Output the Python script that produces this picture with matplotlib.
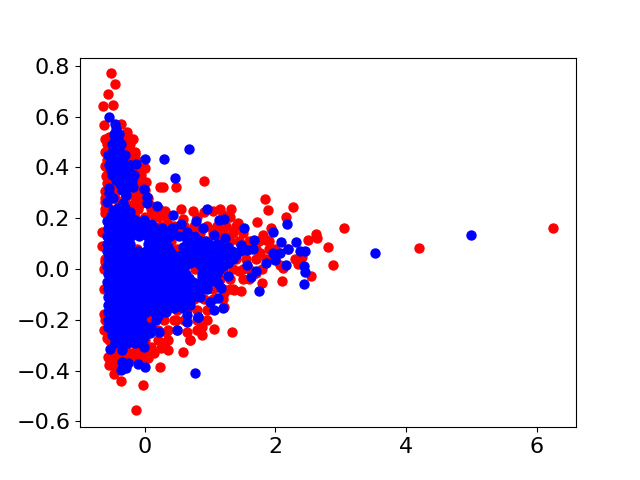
import matplotlib
matplotlib.use('Agg')
import matplotlib.pyplot as plt

# outlying red points
red_x = [6.25, 4.2, 3.05, 2.88, 2.8, 2.64, 2.62, 2.54, 2.5, 2.41, 2.35, 2.27, 2.16, 2.12, 2.1, 2.07,
         1.94, 1.89, 1.86, 1.84, 1.81, 1.8, 1.76, 1.72, 1.71, 1.48, 1.45, 1.43, 1.36, 1.35, 1.35, 1.34, 1.32,
         1.22, 1.22, 1.2, 1.06, 1.04, 1.04, 0.91, 0.91, 0.87, 0.87, 0.86, 0.74, 0.69, 0.69, 0.64, 0.64,
         0.59, 0.59, 0.485, 0.48, 0.36, 0.36, 0.33, 0.31, 0.31, 0.28, 0.23, 0.23, 0.15, 0.1, 0.02, 0.02, 0.0,
         -0.03, -0.13, -0.13, -0.13, -0.15, -0.18, -0.27, -0.33, -0.36, -0.36, -0.45, -0.47, -0.49, -0.52,
         -0.54, -0.56, -0.56, -0.58, -0.59, -0.6, -0.6, -0.6, -0.6, -0.61, -0.61, -0.63, -0.63, -0.63, -0.64,
         -0.65, -0.65]
red_y = [0.16, 0.083, 0.16, 0.017, 0.085, 0.121, 0.138, -0.026, 0.113, 0.046, 0.019, 0.243, 0.206, 0.004, -0.049, 0.016,
         0.16, 0.231, 0.114, 0.275, 0.134, -0.056, 0.062, 0.184, -0.017, -0.086, -0.01, 0.181, -0.083, 0.15, -0.08, -0.25, 0.237,
         -0.096, -0.149, 0.214, -0.238, 0.228, 0.155, 0.346, 0.224, -0.228, -0.26, -0.23, 0.228, -0.28, -0.28, -0.25, 0.146,
         0.195, -0.325, 0.322, -0.2, 0.175, -0.321, -0.247, 0.229, -0.287, 0.322, 0.322, -0.387, 0.214, -0.306, 0.343, -0.313, 0.398,
         -0.455, 0.268, -0.333, -0.557, 0.454, 0.513, 0.54, -0.346, 0.57, -0.44, 0.73, -0.412, 0.645, 0.77,
         -0.379, 0.69, -0.346, -0.273, 0.367, 0.513, 0.406, 0.306, 0.221, 0.263, 0.029, 0.565, -0.241, -0.178, 0.643,
         0.146, 0.09]

# red mass behind the blue, one list of x per y level
red_core_y = [0.52, 0.49, 0.46, 0.43, 0.40, 0.37, 0.34, 0.31, 0.28, 0.25, 0.235, 0.205, 0.17, 0.14, 0.11, 0.08, 0.04, 0.0,
              -0.04, -0.08, -0.12, -0.16, -0.2, -0.24, -0.28, -0.31, -0.33, -0.35, -0.38]
red_core_x = [
    [-0.55, -0.45, -0.35, -0.25],
    [-0.58, -0.5, -0.4, -0.3, -0.22],
    [-0.6, -0.5, -0.4, -0.3, -0.2, -0.15],
    [-0.58, -0.45, -0.33, -0.22, -0.14],
    [-0.58, -0.45, -0.3, -0.2, -0.1],
    [-0.58, -0.42, -0.26, -0.14, -0.05],
    [-0.58, -0.45, -0.3, -0.18, -0.08, -0.02],
    [-0.58, -0.42, -0.22, -0.1, 0.0],
    [-0.6, -0.45, -0.3, -0.15, -0.05, 0.05],
    [-0.58, -0.4, -0.2, -0.08, 0.08],
    [-0.6, -0.3, -0.1, 0.1, 0.22, 0.55, 1.15],
    [-0.4, -0.15, 0.0, 0.2, 0.32, 0.8, 1.3],
    [0.1, 0.25, 0.45, 0.6, 0.75, 0.95, 1.1, 1.25, 1.4],
    [-0.6, 0.2, 0.5, 0.65, 0.85, 1.05, 1.2, 1.35, 1.5],
    [0.4, 0.7, 0.95, 1.15, 1.3, 1.45, 1.6, 1.75, 1.9],
    [-0.12, 0.3, 0.49, 0.6, 0.9, 1.2, 1.5, 1.6, 1.7, 1.9, 2.0, 2.2],
    [-0.6, 0.8, 1.4, 1.55, 1.7, 1.85, 2.0, 2.3],
    [-0.62, 0.77, 1.2, 1.35, 1.5, 1.6, 1.8],
    [1.0, 1.15, 1.3, 1.5, 1.6],
    [-0.62, 0.9, 1.05, 1.2, 1.3],
    [0.75, 0.9, 1.05, 1.2],
    [0.5, 0.65, 0.8, 0.95],
    [-0.6, 0.08, 0.3, 0.45, 0.6, 0.8, 0.95],
    [0.2, 0.35, 0.5, 0.8],
    [-0.55, -0.4, -0.2, 0.0, 0.2, 0.35],
    [-0.5, -0.3, -0.12, 0.08, 0.25],
    [-0.42, -0.2, -0.02, 0.14],
    [-0.55, -0.45, -0.35, -0.25, -0.15, -0.05, 0.05],
    [-0.5, -0.42, -0.3],
]

# single blue points around the edge of the mass
blue_x = [5.0, 3.52, 2.46, 2.46, 2.44, 2.44, 2.38, 2.32, 2.19, 2.18, 2.16, 2.08, 2.07, 1.99, 1.96, 1.96,
          1.85, 1.75, 1.7, 1.68, 1.66, 1.63, 1.57, 1.56, 1.52, 1.48, 1.28, 1.23, 1.21, 1.2, 1.17, 1.13, 1.12, 1.12,
          1.06, 1.06, 1.05, 1.0, 0.95, 0.92, 0.89, 0.87, 0.82, 0.81, 0.79, 0.77, 0.71, 0.69, 0.68, 0.65, 0.64, 0.64,
          0.64, 0.59, 0.56, 0.49, 0.46, 0.44, 0.43, 0.31, 0.3, 0.22, 0.19, 0.12, 0.08, 0.04, 0.04, 0.03, 0.01,
          0.0, -0.01, -0.01, -0.01, -0.11, -0.13, -0.18, -0.18, -0.23, -0.23, -0.26, -0.28, -0.29, -0.29,
          -0.33, -0.35, -0.35, -0.36, -0.41, -0.49, -0.53, -0.54, -0.54, -0.55, -0.58,
          -0.2, -0.28, -0.35, -0.48, -0.3, -0.22]
blue_y = [0.133, 0.063, 0.071, -0.013, 0.012, -0.06, 0.071, 0.107, 0.079, 0.177, 0.016, 0.105, 0.062, 0.035, 0.144, 0.062,
          0.025, -0.088, -0.01, 0.114, 0.078, -0.032, 0.015, 0.075, 0.16, 0.095, -0.026, 0.121, 0.196, -0.155, -0.076, 0.192, -0.116, -0.056,
          0.135, -0.162, -0.037, -0.129, 0.237, 0.11, 0.16, -0.03, -0.188, -0.19, 0.188, -0.411, 0.126, -0.122, 0.473, -0.208, 0.146, 0.112,
          -0.181, -0.155, 0.175, -0.241, 0.359, 0.162, 0.213, 0.135, 0.434, -0.25, 0.247, 0.171, -0.254, 0.283, 0.258, 0.162, -0.387,
          0.433, 0.315, 0.192, -0.309, -0.374, 0.415, 0.322, 0.195, 0.346, 0.41, -0.372, 0.214, 0.293, -0.391,
          0.26, -0.365, -0.32, -0.398, 0.241, 0.234, -0.316, 0.32, 0.3, 0.60, 0.264,
          0.37, 0.32, 0.31, 0.28, 0.24, 0.225]

# blue mass, one list of x per y level
blue_core_y = [0.57, 0.55, 0.53, 0.51, 0.49, 0.47, 0.45, 0.43, 0.41, 0.39, 0.37, 0.35, 0.335,
               0.21, 0.19, 0.175, 0.16, 0.145, 0.13, 0.115, 0.10, 0.085, 0.07, 0.055, 0.04, 0.025, 0.01, -0.005,
               -0.02, -0.035, -0.05, -0.065, -0.08, -0.095, -0.11, -0.125, -0.14, -0.155, -0.17, -0.185, -0.20,
               -0.215, -0.23, -0.245, -0.26, -0.275, -0.29]
blue_core_x = [
    [-0.46],
    [-0.44],
    [-0.47, -0.40],
    [-0.46, -0.41],
    [-0.50, -0.42, -0.36],
    [-0.48, -0.4],
    [-0.56, -0.48, -0.38, -0.30],
    [-0.52, -0.44, -0.34],
    [-0.55, -0.47, -0.38, -0.30, -0.22],
    [-0.52, -0.43, -0.34, -0.26],
    [-0.50, -0.42, -0.33, -0.25, -0.17],
    [-0.44, -0.36, -0.28, -0.2],
    [-0.38, -0.28, -0.2],
    [-0.52, -0.42, -0.3],
    [-0.57, -0.48, -0.36, -0.24, -0.12],
    [-0.5, -0.4, -0.28, -0.17, -0.05, 0.1],
    [-0.56, -0.45, -0.33, -0.21, -0.1, 0.02, 0.14, 0.26, 0.42],
    [-0.5, -0.39, -0.27, -0.15, -0.04, 0.09, 0.2, 0.34],
    [-0.57, -0.45, -0.33, -0.21, -0.09, 0.03, 0.15, 0.27, 0.39, 0.52, 0.75],
    [-0.51, -0.39, -0.27, 0.09, 0.21, 0.33, 0.7, 0.82],
    [-0.58, -0.46, -0.34, -0.22, 0.05, 0.17, 0.29, 0.65, 0.87, 0.99, 1.1],
    [-0.52, -0.4, -0.28, 0.11, 0.23, 0.35, 0.59, 0.71, 0.82, 0.93, 1.05, 1.16, 1.28],
    [-0.58, -0.46, -0.34, -0.22, -0.1, 0.02, 0.14, 0.26, 0.38, 0.62, 0.74, 0.86, 0.98, 1.1, 1.22, 1.34, 1.46],
    [-0.52, -0.4, -0.28, -0.16, -0.04, 0.08, 0.2, 0.32, 0.44, 0.56, 0.68, 0.8, 0.92, 1.04, 1.16, 1.28, 1.4],
    [-0.56, -0.45, -0.33, -0.21, -0.09, 0.03, 0.15, 0.27, 0.39, 0.51, 0.63, 0.75, 0.87, 0.99, 1.11, 1.23, 1.35],
    [-0.51, -0.39, -0.27, -0.15, -0.03, 0.09, 0.21, 0.33, 0.45, 0.57, 0.69, 0.81, 0.93, 1.05, 1.16, 1.27],
    [-0.57, -0.46, -0.34, -0.22, -0.1, 0.02, 0.14, 0.26, 0.38, 0.5, 0.62, 0.86, 0.98, 1.1, 1.2],
    [-0.51, -0.4, -0.28, -0.16, -0.04, 0.08, 0.2, 0.32, 0.44, 0.56, 0.92, 1.04, 1.14],
    [-0.56, -0.45, -0.33, -0.21, -0.09, 0.03, 0.15, 0.27, 0.39, 0.51, 0.63, 0.88, 1.0, 1.1],
    [-0.51, -0.39, -0.27, -0.15, -0.03, 0.09, 0.21, 0.33, 0.45, 0.57, 0.68, 0.92, 1.03],
    [-0.57, -0.46, -0.34, -0.22, -0.1, 0.02, 0.14, 0.26, 0.38, 0.5, 0.62, 0.74, 0.86, 0.98],
    [-0.51, -0.4, -0.28, -0.16, -0.04, 0.08, 0.2, 0.32, 0.44, 0.56, 0.68, 0.8, 0.9],
    [-0.56, -0.45, -0.33, -0.21, -0.09, 0.03, 0.15, 0.27, 0.39, 0.51, 0.63, 0.75, 0.85, 0.95],
    [-0.51, -0.39, -0.27, -0.15, -0.03, 0.09, 0.21, 0.33, 0.45, 0.57, 0.69, 0.8],
    [-0.56, -0.46, -0.34, -0.22, -0.1, 0.02, 0.14, 0.26, 0.38, 0.5, 0.62, 0.74, 0.85],
    [-0.51, -0.4, -0.28, -0.16, -0.04, 0.08, 0.2, 0.32, 0.44, 0.56, 0.66],
    [-0.56, -0.45, -0.33, -0.21, -0.09, 0.03, 0.15, 0.27, 0.39, 0.51, 0.63, 0.7],
    [-0.51, -0.39, -0.27, -0.15, -0.03, 0.09, 0.21, 0.32, 0.45],
    [-0.56, -0.46, -0.34, -0.22, -0.1, 0.02, 0.14, 0.26, 0.33],
    [-0.51, -0.4, -0.28, -0.16, -0.04, 0.2],
    [-0.56, -0.45, -0.33, -0.21, -0.09, 0.18],
    [-0.51, -0.39, -0.27, -0.15, -0.03],
    [-0.56, -0.46, -0.34, -0.22, -0.1, 0.02, 0.1],
    [-0.5, -0.4, -0.28, -0.16, -0.04],
    [-0.5, -0.4, -0.3, -0.2, -0.1, 0.0],
    [-0.46, -0.35, -0.24, -0.13, -0.03],
    [-0.45, -0.35, -0.25, -0.15, -0.05],
]

# unroll the per-level lists
for y, xs in zip(red_core_y, red_core_x):
    red_x = red_x + xs
    red_y = red_y + [y] * len(xs)
for y, xs in zip(blue_core_y, blue_core_x):
    blue_x = blue_x + xs
    blue_y = blue_y + [y] * len(xs)

plt.rcParams['font.size'] = 16

fig, ax = plt.subplots(figsize=(6.4, 4.8), dpi=100)
ax.scatter(red_x, red_y, s=42, c='red')
ax.scatter(blue_x, blue_y, s=42, c='blue')

ax.set_xlim(-0.99, 6.6)
ax.set_ylim(-0.623, 0.832)
ax.set_xticks([0, 2, 4, 6])
ax.set_yticks([-0.6, -0.4, -0.2, 0.0, 0.2, 0.4, 0.6, 0.8])

plt.savefig('out.png', dpi=100)
plt.close()
